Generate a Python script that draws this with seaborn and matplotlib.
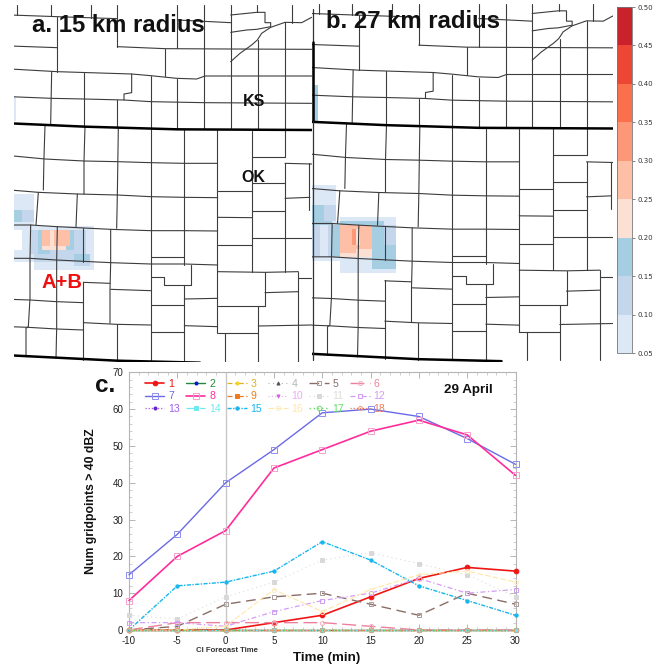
import numpy as np
import matplotlib
matplotlib.use("Agg")
import matplotlib.pyplot as plt
from matplotlib.cm import ScalarMappable
from matplotlib.colors import ListedColormap, Normalize
from matplotlib.ticker import MultipleLocator
import seaborn as sns

W, H = 657, 665

# forecast probability bins
bin_edges = [0.05, 0.10, 0.15, 0.20, 0.25, 0.30, 0.35, 0.40, 0.45, 0.50]
bin_colors = ["#dce8f5", "#c4d6eb", "#a6cee3", "#fde0d4", "#fdbfa6",
              "#fc9878", "#fb704c", "#ee4634", "#c9222a"]

# probability bin per grid cell, 0 is empty
field_a = ["00000000000000000000",
           "11111000000000000000",
           "11111000000000000000",
           "11111000000000000000",
           "11111000000000000000",
           "33222000000000000000",
           "33222000000000000000",
           "33222000000000000000",
           "11111000000000000000",
           "11111111111111111111",
           "00112235545555322211",
           "00112235545555322211",
           "00112235545555322211",
           "00112235545555322211",
           "00112234444443322211",
           "11112233322222222211",
           "11111222222222233331",
           "11111222222222233331",
           "00000111111111122221",
           "00000111111111111111"]

field_b = ["111111000000000000000",
           "111111000000000000000",
           "111111000000000000000",
           "111111000000000000000",
           "111111000000000000000",
           "333222000000000000000",
           "333222000000000000000",
           "333222000000000000000",
           "333222011111111111111",
           "333331133333333333111",
           "221123355555555333222",
           "221123355564555333222",
           "221123355564555333222",
           "221123355564555333222",
           "221123355564555333222",
           "221123355555555333333",
           "221123355554444333333",
           "221123344444444333333",
           "111111111111111333333",
           "000000011111111333333",
           "000000011111111333333",
           "000000011111111111111"]

edge_patch_a = ["1", "1"]
edge_patch_b = ["3", "3", "3"]

# county lines, map units north of the state line
north_lines = [
    [(30, 45), (172, 50), (352, 56)],
    [(532, 60), (692, 68)],
    [(52, 15), (52, 45)],
    [(152, 15), (152, 48)],
    [(172, 50), (172, 215)],
    [(272, 15), (272, 54)],
    [(352, 15), (352, 140)],
    [(532, 15), (532, 145)],
    [(612, 15), (612, 388)],
    [(692, 15), (692, 388)],
    [(772, 15), (772, 37)],
    [(692, 45), (770, 37), (795, 37), (795, 68), (812, 68), (812, 80), (770, 88), (740, 90), (692, 97)],
    [(692, 185), (720, 160), (755, 135), (772, 120), (785, 100), (812, 82), (855, 67), (905, 68), (935, 52)],
    [(875, 15), (875, 68)],
    [(855, 67), (855, 470)],
    [(775, 120), (775, 388)],
    [(30, 138), (172, 143)],
    [(352, 140), (495, 146), (692, 147), (935, 148)],
    [(495, 146), (495, 228)],
    [(30, 207), (172, 215), (395, 222), (452, 227), (530, 235), (590, 237), (615, 228), (935, 228)],
    [(395, 222), (395, 278), (372, 282), (372, 300)],
    [(452, 228), (452, 1080)],
    [(532, 237), (532, 388)],
    [(155, 215), (152, 372)],
    [(252, 218), (252, 380)],
    [(352, 300), (352, 382)],
    [(30, 290), (155, 295), (252, 297), (372, 300), (452, 305), (612, 308), (935, 310)],
    [(135, 378), (132, 470), (130, 570)],
    [(255, 380), (252, 483), (252, 582)],
    [(355, 382), (352, 585)],
    [(552, 390), (552, 795)],
    [(652, 390), (652, 1000)],
    [(755, 392), (755, 815)],
    [(855, 490), (855, 815)],
    [(30, 467), (135, 477), (252, 483), (352, 485), (452, 488), (552, 490), (652, 490)],
    [(755, 470), (855, 470)],
    [(855, 490), (935, 492)],
]

# county lines south of that, measured from south_offset
south_offset = 510
south_lines = [
    [(928, -20), (928, 120)],
    [(30, 60), (115, 67), (232, 72), (352, 75), (452, 80), (553, 82), (653, 83)],
    [(653, 62), (755, 62)],
    [(755, 40), (855, 40)],
    [(855, 85), (930, 82)],
    [(115, 67), (108, 165)],
    [(232, 72), (228, 170)],
    [(352, 75), (350, 175)],
    [(30, 165), (92, 165), (172, 170), (332, 178), (452, 182), (553, 182), (653, 183)],
    [(653, 142), (755, 143)],
    [(755, 123), (855, 123)],
    [(755, 205), (935, 205)],
    [(653, 225), (755, 225)],
    [(30, 265), (90, 265), (170, 270), (332, 278), (452, 282), (553, 282), (653, 285)],
    [(452, 262), (553, 262)],
    [(653, 305), (795, 307), (895, 305)],
    [(895, 325), (935, 325)],
    [(92, 165), (90, 265), (90, 385), (85, 470), (78, 475), (78, 560)],
    [(172, 170), (170, 270), (170, 385), (170, 475), (168, 565)],
    [(250, 175), (250, 275)],
    [(250, 335), (250, 458), (250, 570)],
    [(332, 178), (332, 280), (330, 358), (330, 460)],
    [(250, 337), (330, 340)],
    [(332, 358), (452, 362)],
    [(452, 322), (492, 322), (492, 345), (573, 345), (573, 285)],
    [(552, 345), (552, 575)],
    [(30, 388), (90, 390), (170, 395), (250, 398)],
    [(30, 470), (85, 472), (170, 477), (250, 480)],
    [(250, 458), (350, 463), (452, 465)],
    [(350, 463), (350, 575)],
    [(452, 405), (553, 405)],
    [(553, 387), (653, 385)],
    [(653, 408), (795, 408), (795, 307)],
    [(775, 408), (775, 575)],
    [(653, 490), (775, 490)],
    [(553, 467), (653, 470)],
    [(452, 487), (553, 487)],
    [(775, 468), (935, 465)],
    [(795, 368), (895, 365)],
    [(895, 305), (895, 575)],
    [(675, 490), (675, 575)],
]

state_line_north = [(30, 370), (255, 380), (532, 388), (935, 390)]
state_line_south = [(30, 556), (350, 572), (600, 578)]
panel_b_edge = [(33, 30), (33, 1085)]
panel_b_edge_thick = [(33, 130), (33, 365)]

# line chart
times = [-10, -5, 0, 5, 10, 15, 20, 25, 30]
zeros = [0, 0, 0, 0, 0, 0, 0, 0, 0]
counts_1 = [0, 0, 0, 2, 4, 9, 14, 17, 16]
counts_5 = [0, 1, 7, 9, 10, 7, 4, 10, 7]
counts_6 = [0, 2, 2, 2, 2, 1, 0, 0, 0]
counts_7 = [15, 26, 40, 49, 59, 60, 58, 52, 45]
counts_8 = [8, 20, 27, 44, 49, 54, 57, 53, 42]
counts_11 = [4, 3, 9, 13, 19, 21, 18, 15, 9]
counts_12 = [2, 2, 1, 5, 8, 10, 14, 10, 11]
counts_15 = [0, 12, 13, 16, 24, 19, 12, 8, 4]
counts_16 = [0, 0, 1, 11, 5, 11, 15, 16, 13]

member_names = [str(i) for i in range(1, 19)]
member_counts = [counts_1, zeros, zeros, zeros, counts_5, counts_6, counts_7, counts_8, zeros,
                 zeros, counts_11, counts_12, zeros, zeros, counts_15, counts_16, zeros, zeros]
member_colors = ["#f01515", "#1f8a3c", "#e0b020", "#b5b5b5", "#8a6d66", "#ee7f9c",
                 "#6a6ae6", "#ff2d9b", "#f07a1c", "#eeaaf2", "#dcdcdc", "#d59cf5",
                 "#a05fe8", "#6ce9f2", "#16b6ee", "#ffe7a6", "#62e062", "#f07a58"]
member_dashes = ["-", "-", (0, (4, 2, 1, 2)), (0, (1, 3)), (0, (7, 4)), (0, (10, 4)),
                 "-", "-", (0, (4, 2, 1, 2)), (0, (1, 2)), (0, (1, 3)), (0, (4, 2, 1, 2)),
                 (0, (1, 1.5)), (0, (7, 4)), (0, (3, 1, 1, 1)), (0, (5, 2)), (0, (1, 2)), (0, (1, 1.5))]
member_markers = ["o", "o", "o", "^", "s", "o", "s", "s", "s", "v", "s", "s", "o", "s", "o", "o", "o", "o"]
member_fills = ["#f01515", "#0018c8", "#f3d11e", "#555555", "none", "none", "none", "none", "#f07a1c",
                "#cc66dd", "#d8d8d8", "none", "#6a20c8", "#6ce9f2", "#16b6ee", "none", "none", "none"]
member_edges = ["#f01515", "#0018c8", "#f3d11e", "#555555", "#a89a96", "#f3b0c0", "#8f8fee", "#f6a0cc", "#f07a1c",
                "#cc66dd", "#d8d8d8", "#cf9cf2", "#6a20c8", "#6ce9f2", "#16b6ee", "#fbeec6", "#72dc72", "#f09a80"]
member_sizes = [3.4, 2.2, 2.2, 2.2, 3.2, 3, 3.9, 3.9, 2.2, 2.2, 2.8, 3.3, 2.2, 2.2, 2.4, 3, 3.3, 3]
member_widths = [1.2, 1, 0.9, 0.8, 1, 1, 1, 1.2, 0.9, 0.8, 0.8, 0.9, 0.9, 0.9, 1, 0.8, 1, 0.9]

sns.set_theme(style="ticks")
plt.rcParams["font.family"] = ["Liberation Sans", "DejaVu Sans"]
plt.rcParams["axes.unicode_minus"] = False


def px_axes(left, top, right, bottom, **kwargs):
    return fig.add_axes([left / W, 1 - bottom / H, (right - left) / W, (bottom - top) / H], **kwargs)


def draw_field(rows, left, top, cell_w, cell_h):
    levels = np.array([[int(c) for c in row] for row in rows])
    # heat value is the middle of each bin
    values = bin_edges[0] + (levels - 0.5) * 0.05
    ax = px_axes(left, top, left + cell_w * levels.shape[1], top + cell_h * levels.shape[0], zorder=0)
    sns.heatmap(values, mask=levels == 0, cmap=cmap, vmin=bin_edges[0], vmax=bin_edges[-1],
                cbar=False, xticklabels=False, yticklabels=False, ax=ax)
    ax.patch.set_alpha(0)
    ax.set_axis_off()


def draw_counties(ax):
    for line in north_lines:
        xs, ys = zip(*line)
        sns.lineplot(x=list(xs), y=list(ys), sort=False, estimator=None, color="#3c3c3c", lw=0.8, ax=ax)
    for line in south_lines:
        xs, ys = zip(*line)
        sns.lineplot(x=list(xs), y=[y + south_offset for y in ys], sort=False, estimator=None,
                     color="#3c3c3c", lw=0.8, ax=ax)
    xs, ys = zip(*state_line_north)
    ax.plot(xs, ys, color="black", lw=1.8)
    xs, ys = zip(*state_line_south)
    ax.plot(xs, [y + south_offset for y in ys], color="black", lw=1.8)


fig = plt.figure(figsize=(W / 100, H / 100), dpi=100)
cmap = ListedColormap(bin_colors)

draw_field(field_a, 14, 190, 4, 4)
draw_field(edge_patch_a, 14, 97, 1.5, 12)
draw_field(field_b, 312, 185, 4, 4)
draw_field(edge_patch_b, 313, 85, 5, 12)

map_a = px_axes(14, 0, 312, 362, zorder=1)
map_a.patch.set_alpha(0)
draw_counties(map_a)
map_a.set_xlim(42, 936)
map_a.set_ylim(1086, 0)
map_a.set_axis_off()

map_b = px_axes(312, 0, 613, 362, zorder=1)
map_b.patch.set_alpha(0)
draw_counties(map_b)
xs, ys = zip(*panel_b_edge)
map_b.plot(xs, ys, color="#333333", lw=0.9)
xs, ys = zip(*panel_b_edge_thick)
map_b.plot(xs, ys, color="black", lw=1.8)
map_b.set_xlim(31.5, 934.5)
map_b.set_ylim(1090.5, 4.5)
map_b.set_axis_off()

# colour bar
cax = px_axes(617, 7, 632, 353)
cbar = fig.colorbar(ScalarMappable(norm=Normalize(bin_edges[0], bin_edges[-1]), cmap=cmap), cax=cax,
                    ticks=bin_edges)
cbar.ax.set_yticklabels([f"{v:.2f}" for v in bin_edges], fontsize=5, color="#333333",
                        family="DejaVu Sans")
cbar.ax.tick_params(length=2, width=0.5, color="#555555", pad=2)
cbar.outline.set_edgecolor("#777777")
cbar.outline.set_linewidth(0.6)

# line chart panel
ax = px_axes(129, 372.3, 515.5, 630, zorder=2)
ax.axvline(0, color="#c8c8c8", lw=1, zorder=1)
handles = []
for i, name in enumerate(member_names):
    sns.lineplot(x=times, y=member_counts[i], ax=ax, color=member_colors[i], linestyle=member_dashes[i],
                 lw=member_widths[i], marker=member_markers[i], markersize=member_sizes[i],
                 markerfacecolor=member_fills[i], markeredgecolor=member_edges[i],
                 markeredgewidth=0.7, label=name, legend=False, clip_on=False, zorder=3 + i)
    handles.append(ax.get_lines()[-1])

ax.set_xlim(-10, 30)
ax.set_ylim(0, 70)
ax.xaxis.set_major_locator(MultipleLocator(5))
ax.xaxis.set_minor_locator(MultipleLocator(1))
ax.yaxis.set_major_locator(MultipleLocator(10))
ax.yaxis.set_minor_locator(MultipleLocator(2))
ax.tick_params(which="major", direction="in", length=4, width=0.6, color="#aaaaaa",
               top=True, right=True, labelsize=7, labelcolor="#222222", pad=4)
ax.tick_params(which="minor", direction="in", length=2, width=0.5, color="#bbbbbb", top=True, right=True)
for spine in ax.spines.values():
    spine.set_visible(True)
    spine.set_color("#b5b5b5")
    spine.set_linewidth(0.8)
ax.set_xlabel("Time (min)", fontsize=9.6, fontweight="bold", color="#111111")
ax.xaxis.set_label_coords(0.512, -0.107, transform=ax.transAxes)
ax.xaxis.label.set_verticalalignment("center")
ax.set_ylabel("Num gridpoints > 40 dBZ", fontsize=8.8, fontweight="bold", color="#111111")
ax.yaxis.set_label_coords(-0.083, 0.5, transform=ax.transAxes)

# matplotlib fills legend columns first
legend_order = [j for col in range(6) for j in (col, col + 6, col + 12)]
leg = ax.legend([handles[j] for j in legend_order], [member_names[j] for j in legend_order],
                ncol=6, frameon=False, loc="upper left", bbox_to_anchor=(0.041, 0.974),
                fontsize=7.6, handlelength=1.85, handletextpad=0.35, columnspacing=0.58,
                labelspacing=0.22, borderaxespad=0, borderpad=0, labelcolor="linecolor")
leg.set_zorder(30)

fig.text(32 / W, 1 - 32 / H, "a. 15 km radius", fontsize=17.2, fontweight="bold", color="#111111", zorder=5)
fig.text(326 / W, 1 - 28 / H, "b. 27 km radius", fontsize=17.2, fontweight="bold", color="#111111", zorder=5)
fig.text(243 / W, 1 - 106 / H, "KS", fontsize=11.5, fontweight="bold", color="#111111", zorder=5)
fig.text(241 / W, 1 - 182 / H, "OK", fontsize=11.5, fontweight="bold", color="#111111", zorder=5)
fig.text(41.5 / W, 1 - 288 / H, "A+B", fontsize=14.5, fontweight="bold", color="#ee1111", zorder=5)
fig.text(95.5 / W, 1 - 392 / H, "c.", fontsize=17.5, fontweight="bold", color="#111111", zorder=5)
fig.text(444 / W, 1 - 393 / H, "29 April", fontsize=9.6, fontweight="bold", color="#111111", zorder=5)
fig.text(227 / W, 1 - 652 / H, "CI Forecast Time", fontsize=5.6, fontweight="bold", color="#333333",
         ha="center", zorder=5)

fig.savefig("out.png", dpi=100)
